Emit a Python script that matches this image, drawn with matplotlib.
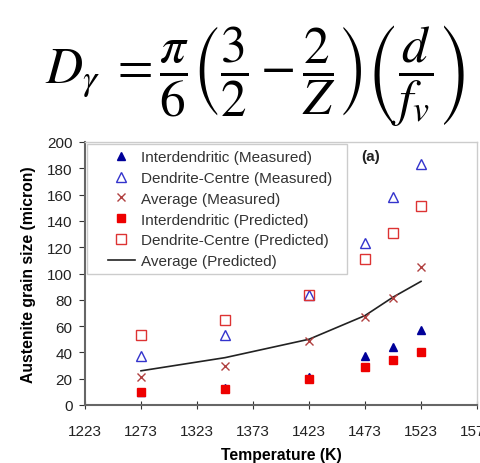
import matplotlib
matplotlib.use("Agg")
import matplotlib.pyplot as plt
from matplotlib.patches import Rectangle

plt.rcParams['font.family'] = ['Liberation Sans', 'DejaVu Sans']
plt.rcParams['mathtext.fontset'] = 'stix'

temps = [1273, 1348, 1423, 1473, 1498, 1523]
inter_meas = [10, 13, 21, 37, 44, 57]
dend_meas = [37, 53, 84, 123, 158, 183]
avg_meas = [21, 30, 49, 67, 81, 105]
inter_pred = [10, 12, 20, 29, 34, 40]
dend_pred = [53, 65, 84, 111, 131, 151]
avg_pred = [26, 36, 50, 68, 82, 94]

xticks = [1223, 1273, 1323, 1373, 1423, 1473, 1523, 1573]
yticks = list(range(0, 201, 20))

fig = plt.figure(figsize=(4.81, 4.64), dpi=100)
ax = fig.add_axes([85/481, 58/464, 392/481, 263/464])

ax.plot(temps, inter_meas, linestyle='none', marker='^', ms=6, color='#000099',
        label='Interdendritic (Measured)', zorder=3)
ax.plot(temps, dend_meas, linestyle='none', marker='^', ms=7, mfc='none', mec='#3333cc',
        mew=1.0, label='Dendrite-Centre (Measured)', zorder=3)
ax.plot(temps, avg_meas, linestyle='none', marker='x', ms=6, color='#b04040', mew=1.0,
        label='Average (Measured)', zorder=3)
ax.plot(temps, inter_pred, linestyle='none', marker='s', ms=6, color='#ee0000',
        label='Interdendritic (Predicted)', zorder=3)
ax.plot(temps, dend_pred, linestyle='none', marker='s', ms=7, mfc='none', mec='#dd3333',
        mew=1.0, label='Dendrite-Centre (Predicted)', zorder=3)
ax.plot(temps, avg_pred, color='#222222', lw=1.2, label='Average (Predicted)', zorder=2)

ax.set_xlim(1223, 1573)
ax.set_ylim(0, 200)
ax.set_xticks(xticks)
ax.set_yticks(yticks)
ax.tick_params(axis='x', direction='inout', length=6, labelsize=11, colors='#333333',
               labelcolor='#222222', pad=11)
ax.tick_params(axis='y', direction='out', length=4, labelsize=11, colors='#333333',
               labelcolor='#222222', pad=5)
for s in ['left', 'bottom']:
    ax.spines[s].set_color('#666666')
    ax.spines[s].set_linewidth(1.5)
for s in ['top', 'right']:
    ax.spines[s].set_color('#cccccc')
    ax.spines[s].set_linewidth(1.0)

ax.set_xlabel('Temperature (K)', fontsize=11.3, fontweight='bold', labelpad=6)
ax.set_ylabel('Austenite grain size (micron)', fontsize=11.3, fontweight='bold', labelpad=8)

# legend frame drawn separately (wider horizontal padding)
ax.add_patch(Rectangle((2/392, 131/263), 260/392, 130/263, transform=ax.transAxes,
                       facecolor='white', edgecolor='#cccccc', lw=1.0, zorder=4))
leg = ax.legend(loc='upper left', bbox_to_anchor=(23/392, 1 - 8/263), fontsize=11,
                frameon=False, handlelength=1.75, handletextpad=0.4, borderpad=0,
                labelspacing=0.45, borderaxespad=0)
leg.set_zorder(5)
for t in leg.get_texts():
    t.set_color('#333333')

ax.text(1470, 189, '(a)', fontsize=11, fontweight='bold', ha='left', va='center', color='#222222')

fig.text(0.53, 0.838,
         r'$D_{\gamma}\;=\dfrac{\pi}{6}\left(\dfrac{3}{2}-\dfrac{2}{Z}\right)\left(\dfrac{d}{f_v}\right)$',
         fontsize=37, ha='center', va='center')

fig.savefig('out.png', dpi=100)
